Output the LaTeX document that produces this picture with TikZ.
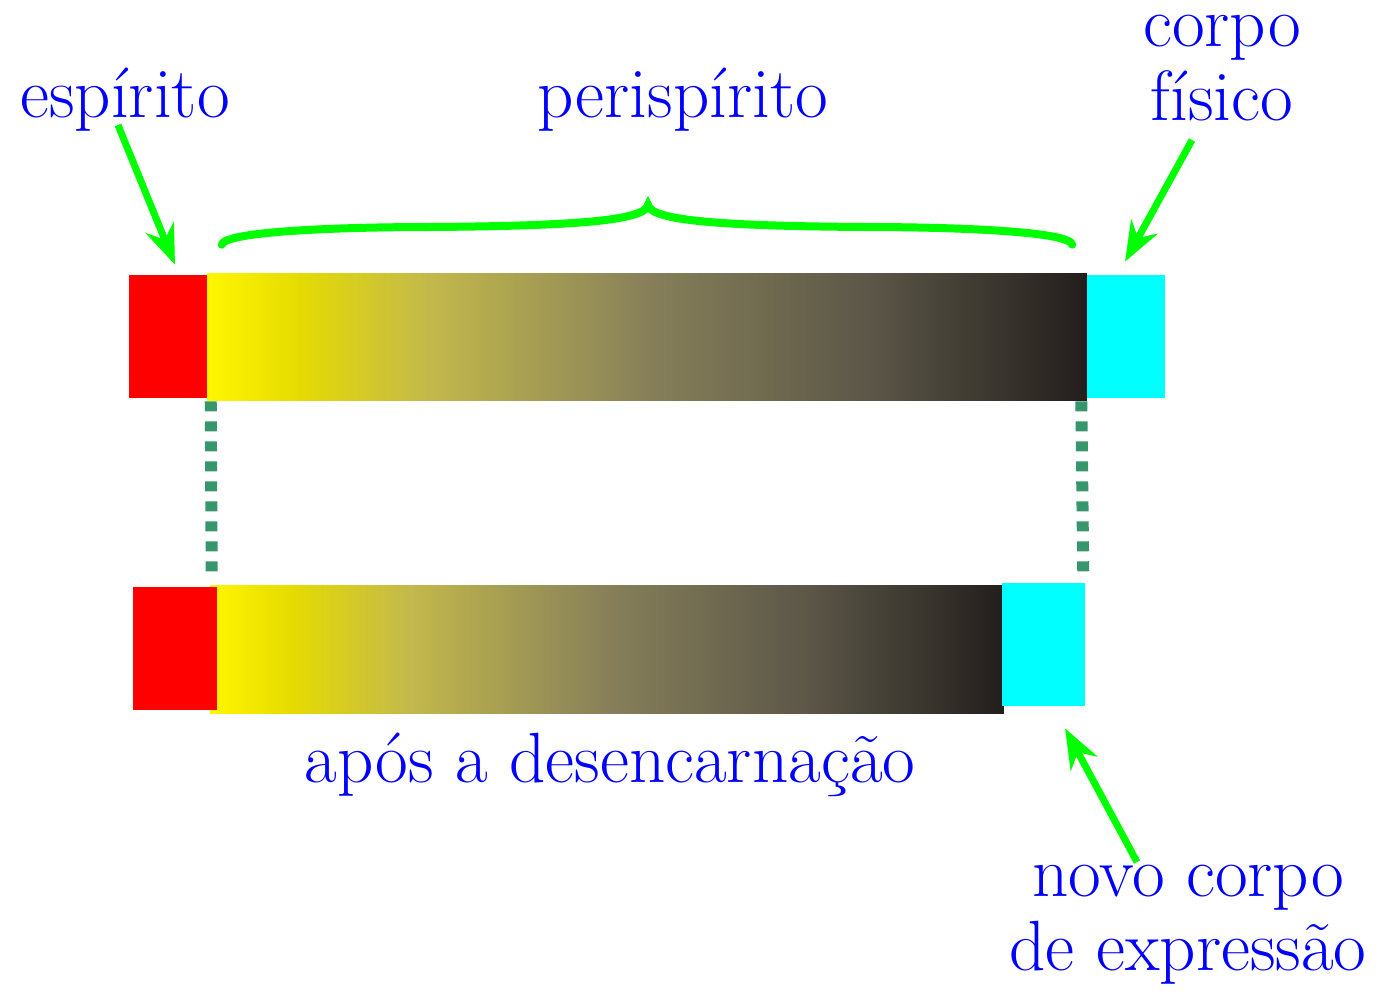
\documentclass[tikz,border=0pt]{standalone}
\usepackage{tikz}
\usetikzlibrary{positioning,calc,arrows.meta}

\definecolor{tblue}{RGB}{0,0,255}
\definecolor{tgreen}{RGB}{0,255,0}
\definecolor{dotgreen}{RGB}{56,150,108}
\definecolor{sred}{RGB}{255,0,0}
\definecolor{scyan}{RGB}{0,255,255}
\definecolor{gyl}{RGB}{255,246,0}
\definecolor{gy}{RGB}{230,220,0}
\definecolor{gol}{RGB}{195,185,75}
\definecolor{gmd}{RGB}{135,128,90}
\definecolor{gdk}{RGB}{92,87,72}
\definecolor{gbk}{RGB}{35,30,28}
\pgfdeclarehorizontalshading{perisp}{100bp}{color(0bp)=(gyl); color(25bp)=(gyl); color(30bp)=(gy); color(37.5bp)=(gol); color(50bp)=(gmd); color(62.5bp)=(gdk); color(75bp)=(gbk); color(100bp)=(gbk)}

\begin{document}
\begin{tikzpicture}[x=0.02cm,y=-0.02cm,
    lbl/.style={text=tblue,inner sep=0pt,align=center,font=\fontsize{40.5}{42}\selectfont},
    box/.style={inner sep=0pt,minimum width=15.6mm,minimum height=24.6mm},
    grad/.style={inner sep=0pt,minimum height=25.6mm,shading=perisp},
    pointer/.style={draw=tgreen,line width=1.4mm,-{Stealth[length=8mm,width=6mm]}},
    dots/.style={draw=dotgreen,line width=2.4mm,dash pattern=on 2mm off 2mm},
    curly/.style={draw=tgreen,line width=1.6mm,line cap=round}]
  \useasboundingbox (0,0) rectangle (1381,994);
  % antes
  \node[grad,minimum width=176mm] (gtop) at (647,337) {};
  \node[box,fill=sred] (rtop) at (168,336.5) {};
  \node[box,fill=scyan] (ctop) at (1126,336.5) {};
  % depois
  \node[grad,minimum width=158.8mm] (gbot) at (607,649) {};
  \node[box,fill=sred,minimum width=16.8mm] (rbot) at (175,648.5) {};
  \node[box,fill=scyan,minimum width=16.6mm] (cbot) at (1043.5,644.5) {};
  % textos
  \node[lbl] (esp) at (125,100) {espírito};
  \node[lbl] (peri) at (683,100) {perispírito};
  \node[lbl] (corpo) at (1222,68) {corpo\\físico};
  \node[lbl] (apos) at (610,765) {após a desencarnação};
  \node[lbl] (novo) at (1188,925) {novo corpo\\de expressão};
  % chave
  \coordinate (bl) at ($(gtop.north west)+(15,-28)$);
  \coordinate (br) at ($(gtop.north east)+(-15,-28)$);
  \coordinate (tip) at (648,205);
  \draw[curly] (bl) .. controls +(3,-14) and +(-80,0) .. (430,227)
    .. controls +(140,-1) and +(-3,16) .. (tip)
    .. controls +(3,16) and +(-140,-1) .. (865,227)
    .. controls +(80,0) and +(-3,-14) .. (br);
  % setas
  \draw[pointer] ($(esp.center)+(-7,25)$) -- ($(rtop.north)+(7,-10)$);
  \draw[pointer] ($(corpo.center)+(-30,72)$) -- ($(ctop.north)+(-1,-13)$);
  \draw[pointer] ($(novo.center)+(-51,-63)$) -- ($(cbot.south)+(21.5,22)$);
  % ligacoes
  \draw[dots] ($(gtop.south west)+(4,0)$) -- ($(gbot.north west)+(2,-5)$);
  \draw[dots] ($(gtop.south east)+(-6,0)$) -- ($(cbot.north east)+(-2,-3)$);
\end{tikzpicture}
\end{document}
